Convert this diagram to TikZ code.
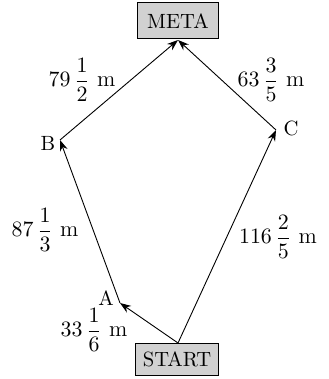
\documentclass[tikz,border=0pt]{standalone}
\usepackage{amsmath}
\usetikzlibrary{arrows.meta}
\begin{document}
\begin{tikzpicture}[x=0.5pt,y=-0.5pt,
  box/.style={draw, fill=black!18, line width=0.5pt, inner sep=0pt, font=\fontsize{10.3}{12}\selectfont},
  lbl/.style={font=\fontsize{10.3}{12}\selectfont, inner sep=0pt},
  dist/.style={font=\fontsize{11.2}{13}\selectfont, inner sep=0pt},
  arr/.style={line width=0.45pt, -{Stealth[length=5.5pt,width=4pt]}}]
\useasboundingbox (0,0) rectangle (328,379);
\node[box, minimum width=40.5pt, minimum height=18pt] (meta) at (178,21) {META};
\node[box, minimum width=41.5pt, minimum height=16pt] (start) at (177,359) {START};
\coordinate (A) at (120,303);
\coordinate (B) at (60,140);
\coordinate (C) at (276,130);
\coordinate (s) at (178,343);
\coordinate (m) at (178,40);
\draw[arr] (s) -- (A);
\draw[arr] (A) -- (B);
\draw[arr] (B) -- (m);
\draw[arr] (s) -- (C);
\draw[arr] (C) -- (m);
\node[lbl] (la) at (106,298) {A};
\node[lbl] (lb) at (48,143) {B};
\node[lbl] (lc) at (291,128) {C};
\node[dist] (d1) at (82,80) {$79\,\dfrac{1}{2}$ m};
\node[dist] (d2) at (271,80) {$63\,\dfrac{3}{5}$ m};
\node[dist] (d3) at (45,230) {$87\,\dfrac{1}{3}$ m};
\node[dist] (d4) at (278,237) {$116\,\dfrac{2}{5}$ m};
\node[dist] (d5) at (94,330) {$33\,\dfrac{1}{6}$ m};
\end{tikzpicture}
\end{document}
